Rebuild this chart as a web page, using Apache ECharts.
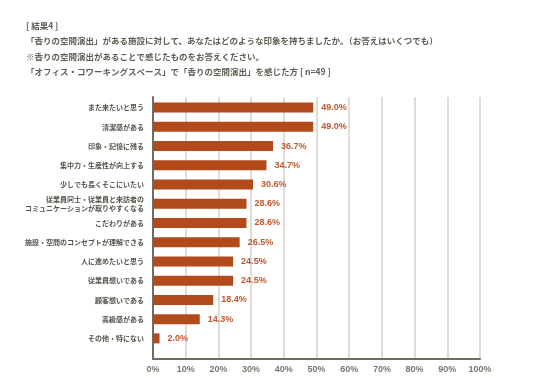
<!DOCTYPE html>
<html><head><meta charset="utf-8">
<script src="https://cdn.jsdelivr.net/npm/echarts@6/dist/echarts.min.js"></script>
<style>html,body{margin:0;padding:0;background:#fff}#c{width:536px;height:385px}</style>
</head><body><div id="c"></div>
<script>
const titleLines = [
  '[ 結果4 ]',
  '「香りの空間演出」がある施設に対して、あなたはどのような印象を持ちましたか。（お答えはいくつでも）',
  '※香りの空間演出があることで感じたものをお答えください。',
  '「オフィス・コワーキングスペース」で「香りの空間演出」を感じた方 [ n=49 ]'
];
const categories = [
  'また来たいと思う',
  '清潔感がある',
  '印象・記憶に残る',
  '集中力・生産性が向上する',
  '少しでも長くそこにいたい',
  '従業員同士・従業員と来訪者の\nコミュニケーションが取りやすくなる',
  'こだわりがある',
  '施設・空間のコンセプトが理解できる',
  '人に進めたいと思う',
  '従業員想いである',
  '顧客想いである',
  '高級感がある',
  'その他・特にない'
];
const values = [49.0, 49.0, 36.7, 34.7, 30.6, 28.6, 28.6, 26.5, 24.5, 24.5, 18.4, 14.3, 2.0];
const xMin = 0, xMax = 100, xInterval = 10;

const chart = echarts.init(document.getElementById('c'), null, {renderer: 'canvas'});
const jp = '"Noto Sans CJK JP", sans-serif';
chart.setOption({
  backgroundColor: '#ffffff',
  animation: false,
  title: {
    text: titleLines.join('\n'),
    left: 21, top: 13,
    textStyle: {fontSize: 8.5, fontWeight: 'bold', color: '#5e5d52', fontFamily: jp, lineHeight: 15.4}
  },
  grid: [
    {left: 153, right: 56, top: 98, height: 250, containLabel: false},
    {left: 153, right: 56, top: 97, height: 262, containLabel: false}
  ],
  xAxis: [
    {gridIndex: 0, type: 'value', min: xMin, max: xMax, interval: xInterval, show: false},
    {gridIndex: 1, type: 'value', min: xMin, max: xMax, interval: xInterval,
     axisLine: {show: true, lineStyle: {color: '#6e6e60', width: 2}},
     axisTick: {show: false},
     axisLabel: {formatter: '{value}%', color: '#77776c', fontSize: 9, fontWeight: 'bold',
                 fontFamily: '"Liberation Sans", Arial, sans-serif', margin: 6},
     splitLine: {show: true, lineStyle: {color: '#d3d2cb', width: 1.5}}}
  ],
  yAxis: [
    {gridIndex: 0, type: 'category', inverse: true, data: categories,
     axisLine: {show: false}, axisTick: {show: false},
     axisLabel: {color: '#545349', fontSize: 7, fontWeight: 'bold', fontFamily: jp, margin: 9,
                 lineHeight: 8.7, align: 'right'}},
    {gridIndex: 1, type: 'value', min: 0, max: 1,
     axisLine: {show: true, lineStyle: {color: '#6e6e60', width: 2}},
     axisTick: {show: false}, axisLabel: {show: false}, splitLine: {show: false}}
  ],
  series: [{
    type: 'bar', xAxisIndex: 0, yAxisIndex: 0, data: values, barWidth: 10,
    itemStyle: {color: '#b34a1c'},
    label: {show: true, position: 'right', distance: 8,
            formatter: p => p.value.toFixed(1) + '%',
            color: '#c0582e', fontSize: 9, fontWeight: 'bold',
            fontFamily: '"Liberation Sans", Arial, sans-serif'}
  }]
});
</script></body></html>
